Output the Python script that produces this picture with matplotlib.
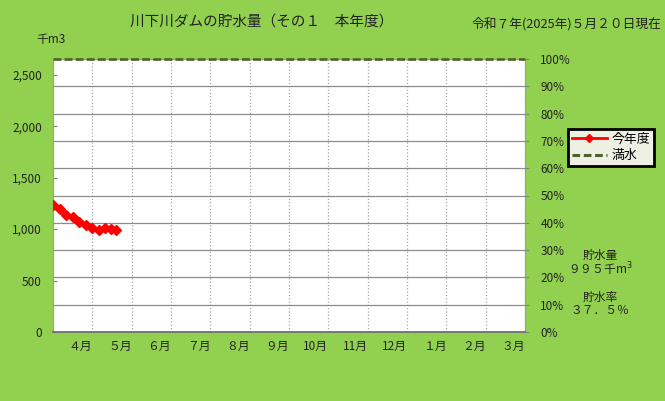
import matplotlib
matplotlib.use('Agg')
import matplotlib.pyplot as plt
from matplotlib.lines import Line2D

plt.rcParams['font.family'] = ['Noto Sans CJK JP', 'DejaVu Sans']

# data (fiscal year starting April)
months = ['４月', '５月', '６月', '７月', '８月', '９月', '10月', '11月', '12月', '１月', '２月', '３月']
month_days = [30, 31, 30, 31, 31, 30, 31, 30, 31, 31, 28, 31]
obs_month = [0, 0, 0, 0, 0, 0, 1, 1, 1, 1, 1]      # 0 = April, 1 = May
obs_day = [1, 6, 11, 16, 21, 26, 1, 6, 11, 16, 20]
storage = [1235, 1195, 1140, 1115, 1070, 1040, 1010, 990, 1010, 1000, 995]
capacity = 2653
left_ticks = [0, 500, 1000, 1500, 2000, 2500]
pct_ticks = list(range(0, 101, 10))

bg = '#92D050'
full_col = '#4F6228'
x = [m + (d - 1) / month_days[m] for m, d in zip(obs_month, obs_day)]

fig = plt.figure(figsize=(6.65, 4.01), dpi=100, facecolor=bg)
ax = fig.add_axes([53 / 665, 1 - 332 / 401, 472 / 665, 273 / 401])
ax.set_facecolor('white')
ax.set_xlim(0, 12)
ax.set_ylim(0, capacity)

# grid
ax.set_xticks(range(1, 13))
ax.set_xticklabels(months, ha='right', fontsize=8.5, color='#222222')
ax.tick_params(axis='x', length=0, pad=6)
ax.grid(axis='x', color='#a6a6a6', linestyle=':', linewidth=0.9)
ax.set_yticks([capacity * p / 100 for p in pct_ticks], minor=True)
ax.grid(axis='y', which='minor', color='#8c8c8c', linewidth=0.9)
ax.tick_params(axis='y', which='minor', length=0)
ax.set_yticks(left_ticks)
ax.set_yticklabels([f'{v:,}' for v in left_ticks], fontsize=8.5, color='#222222')
ax.tick_params(axis='y', which='major', direction='in', length=3, color='#808080', pad=8)
for s in ax.spines.values():
    s.set_color('#9a9a9a')
ax.spines['bottom'].set_color('#707070')
ax.spines['bottom'].set_linewidth(1.3)

ax.axhline(capacity, color=full_col, linestyle=(0, (3, 1.2)), linewidth=1.9, zorder=5, clip_on=False)
ax.plot(x, storage, color='red', marker='D', markersize=5.5, linewidth=2, zorder=6)

ax2 = ax.twinx()
ax2.set_ylim(0, 100)
ax2.set_yticks(pct_ticks)
ax2.set_yticklabels([f'{p}%' for p in pct_ticks], fontsize=8.5, color='#222222')
ax2.tick_params(axis='y', length=3, color='#808080', pad=8)
for s in ax2.spines.values():
    s.set_visible(False)

handles = [Line2D([], [], color='red', marker='D', markersize=4, linewidth=2),
           Line2D([], [], color=full_col, linestyle=(0, (2.5, 1.2)), linewidth=2.2)]
leg = fig.legend(handles, ['今年度', '満水'], loc='upper left',
                 bbox_to_anchor=(568 / 665, 1 - 129 / 401), fontsize=9.3,
                 fancybox=False, framealpha=1, facecolor='#eef0e4', edgecolor='black',
                 borderpad=0.3, labelspacing=0.25, handlelength=2.7, handletextpad=0.4,
                 borderaxespad=0)
leg.get_frame().set_linewidth(2)

fig.text(262 / 665, 1 - 22 / 401, '川下川ダムの貯水量（その１　本年度）', ha='center', va='center', fontsize=10.5, color='#222222')
fig.text(661 / 665, 1 - 24 / 401, '令和７年(2025年)５月２０日現在', ha='right', va='center', fontsize=9.2, color='#222222')
fig.text(51 / 665, 1 - 40 / 401, '千m3', ha='center', va='center', fontsize=8.5, color='#222222')
fig.text(600 / 665, 1 - 255 / 401, '貯水量', ha='center', va='center', fontsize=8.5, color='#222222')
fig.text(600 / 665, 1 - 269 / 401, '９９５千m$^3$', ha='center', va='center', fontsize=8.5, color='#222222')
fig.text(600 / 665, 1 - 297 / 401, '貯水率', ha='center', va='center', fontsize=8.5, color='#222222')
fig.text(600 / 665, 1 - 311 / 401, '３７．５％', ha='center', va='center', fontsize=8.5, color='#222222')

fig.savefig('out.png', dpi=100, facecolor=bg)
plt.close(fig)
